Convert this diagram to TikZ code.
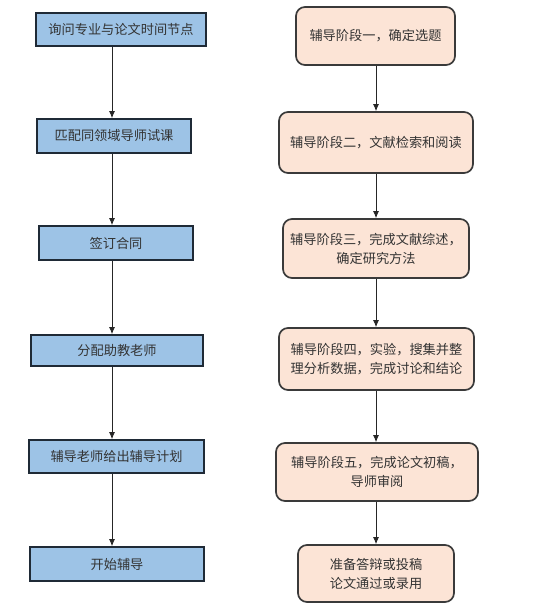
\documentclass[tikz,border=0pt]{standalone}
\usepackage{fontspec}
\usepackage{xcolor}
\usepackage{tikz}
\usetikzlibrary{arrows.meta,calc,positioning,shapes}
\newfontfamily\cjk{Noto Sans CJK SC}
\definecolor{boxblue}{HTML}{9DC3E6}
\definecolor{boxpeach}{HTML}{FCE4D6}
\definecolor{edgeblue}{HTML}{1F2A36}
\definecolor{edgegray}{HTML}{3A3A3A}
\definecolor{txtgray}{HTML}{333333}
\tikzset{%
	lbox/.style  = {draw=edgeblue, line width=1.7pt, fill=boxblue, rectangle, inner sep=0pt, text centered, font=\cjk\fontsize{13.2}{19}\selectfont, text=txtgray},
	rbox/.style  = {draw=edgegray, line width=1.7pt, fill=boxpeach, rectangle, rounded corners=9pt, inner sep=0pt, align=center, font=\cjk\fontsize{13.2}{19}\selectfont, text=txtgray},
	arrow/.style = {line width=0.8pt, draw=black!85, -{Latex[length=7pt,width=6pt]}},
}

\begin{document}
\begin{tikzpicture}[x=1pt,y=-1pt]
		\useasboundingbox (0,0) rectangle (541,615);
		% left column
		\node[lbox, minimum width=170pt, minimum height=33pt] (L1) at (121,29.5) {询问专业与论文时间节点};
		\node[lbox, minimum width=154pt, minimum height=34pt] (L2) at (114,136) {匹配同领域导师试课};
		\node[lbox, minimum width=154pt, minimum height=34pt] (L3) at (116,243) {签订合同};
		\node[lbox, minimum width=172pt, minimum height=31pt] (L4) at (117,350.5) {分配助教老师};
		\node[lbox, minimum width=175pt, minimum height=33pt] (L5) at (116.5,456.5) {辅导老师给出辅导计划};
		\node[lbox, minimum width=174pt, minimum height=34pt] (L6) at (117,564) {开始辅导};
		\coordinate (lx) at (112,0);
		
		% right column
		\node[rbox, minimum width=159pt, minimum height=58pt] (R1) at (375.5,36) {辅导阶段一，确定选题};
		\node[rbox, minimum width=194pt, minimum height=61pt] (R2) at (376,142.5) {辅导阶段二，文献检索和阅读};
		\node[rbox, minimum width=186pt, minimum height=59pt] (R3) at (376,248.5) {辅导阶段三，完成文献综述，\\确定研究方法};
		\node[rbox, minimum width=195pt, minimum height=62pt] (R4) at (376.5,359) {辅导阶段四，实验，搜集并整\\理分析数据，完成讨论和结论};
		\node[rbox, minimum width=202pt, minimum height=58pt] (R5) at (377,472) {辅导阶段五，完成论文初稿，\\导师审阅};
		\node[rbox, minimum width=156pt, minimum height=57pt] (R6) at (376,573.5) {准备答辩或投稿\\论文通过或录用};
		\coordinate (rx) at (376,0);
		
		% connectors
		\foreach \a/\b in {L1/L2,L2/L3,L3/L4,L4/L5,L5/L6} \draw[arrow] (\a.south -| lx) -- (\b.north -| lx);
		\foreach \a/\b in {R1/R2,R2/R3,R3/R4,R4/R5,R5/R6} \draw[arrow] (\a.south -| rx) -- (\b.north -| rx);
\end{tikzpicture}
\end{document}
